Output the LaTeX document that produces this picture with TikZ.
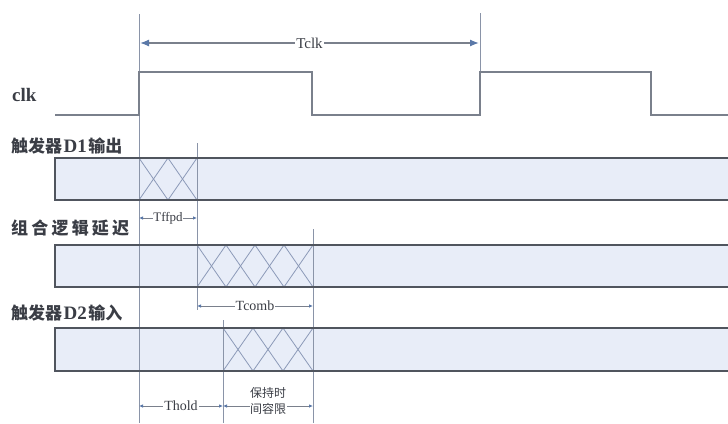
\documentclass[tikz,border=0pt]{standalone}
\usepackage{fontspec}
\setmainfont{Liberation Serif}
\newfontfamily\cjk{Noto Sans CJK SC}
\usetikzlibrary{arrows.meta}
\definecolor{wave}{HTML}{7A808C}
\definecolor{barfill}{HTML}{E8EDF8}
\definecolor{barline}{HTML}{50555E}
\definecolor{guide}{HTML}{8A94A8}
\definecolor{arr}{HTML}{5A78A8}
\definecolor{hatchc}{HTML}{8C9AB8}
\definecolor{txt}{HTML}{3A3D45}
\tikzset{
  wavel/.style={draw=wave, line width=1.3pt},
  guidel/.style={draw=guide, line width=1pt},
  barbox/.style={fill=barfill},
  baredge/.style={draw=barline, line width=1.3pt},
  hatchl/.style={draw=hatchc, line width=0.8pt},
  dim/.style={draw=wave, line width=0.9pt, {Latex[length=4pt,width=3.5pt,color=arr]}-{Latex[length=4pt,width=3.5pt,color=arr]}},
  bigdim/.style={draw=wave, line width=1.3pt, {Latex[length=9pt,width=7pt,color=arr]}-{Latex[length=9pt,width=7pt,color=arr]}},
  lbl/.style={fill=white, inner sep=1pt, text=txt, font=\fontsize{13}{13}\selectfont},
  siglbl/.style={anchor=west, inner sep=0pt, text=txt, font=\fontsize{17}{17}\selectfont\bfseries},
}
\newcommand{\dlabel}[1]{\hspace{1.5pt}{\rmfamily\fontsize{19}{19}\selectfont\bfseries #1}\hspace{1.5pt}}
\begin{document}
\begin{tikzpicture}[x=1pt,y=-1pt]
\useasboundingbox (0,0) rectangle (728,423);
% bars
\foreach \t/\b in {158/200, 245/287, 328/371} {
  \fill[barbox] (55,\t) rectangle (728,\b);
}
% hatch regions
\foreach \a/\w/\n/\t/\b in {139/29/2/158/200, 197/29/4/245/287, 223/30/3/328/371} {
  \foreach \i in {1,...,\n} {
    \draw[hatchl] ({\a+(\i-1)*\w},\t) -- ({\a+\i*\w},\b);
    \draw[hatchl] ({\a+(\i-1)*\w},\b) -- ({\a+\i*\w},\t);
  }
}
% guide lines
\coordinate (g1t) at (139,14);  \coordinate (g1b) at (139,423);
\coordinate (g2t) at (480,13);  \coordinate (g2b) at (480,73);
\coordinate (g3t) at (197,143); \coordinate (g3b) at (197,310);
\coordinate (g4t) at (313,229); \coordinate (g4b) at (313,423);
\coordinate (g5t) at (223,320); \coordinate (g5b) at (223,423);
\draw[guidel] (g1t) -- (g1b);
\draw[guidel] (g2t) -- (g2b);
\draw[guidel] (g3t) -- (g3b);
\draw[guidel] (g4t) -- (g4b);
\draw[guidel] (g5t) -- (g5b);
% bar edges
\foreach \t/\b in {158/200, 245/287, 328/371} {
  \draw[baredge] (728,\t) -- (55,\t) -- (55,\b) -- (728,\b);
}
% clock
\coordinate (c0) at (55,115);
\coordinate (c1) at (728,115);
\draw[wavel] (c0) -- (139,115) -- (139,72) -- (312,72) -- (312,115) -- (480,115) -- (480,72) -- (651,72) -- (651,115) -- (c1);
% labels
\node[siglbl, font=\fontsize{19}{19}\selectfont\bfseries] (clk) at (12,95) {clk};
\node[siglbl] (d1) at (11,146) {\cjk 触发器\dlabel{D1}输出};
\node[siglbl] (cl) at (11,228) {\cjk 组\hspace{3.2pt}合\hspace{3.2pt}逻\hspace{3.2pt}辑\hspace{3.2pt}延\hspace{3.2pt}迟};
\node[siglbl] (d2) at (11,313) {\cjk 触发器\dlabel{D2}输入};
% dimensions
\coordinate (k1) at (140,43); \coordinate (k2) at (479,43);
\draw[bigdim] (k1) -- node[lbl, font=\fontsize{15}{15}\selectfont] (tclk) {Tclk} (k2);
\coordinate (f1) at (139,218); \coordinate (f2) at (197,218);
\draw[dim] (f1) -- node[lbl, font=\fontsize{13}{13}\selectfont, inner sep=0.3pt] (tffpd) {Tffpd} (f2);
\coordinate (m1) at (197,306); \coordinate (m2) at (313,306);
\draw[dim] (m1) -- node[lbl, font=\fontsize{14}{14}\selectfont] (tcomb) {Tcomb} (m2);
\coordinate (h1) at (139,406); \coordinate (h2) at (223,406); \coordinate (h3) at (313,406);
\draw[dim] (h1) -- node[lbl, font=\fontsize{14}{14}\selectfont] (thold) {Thold} (h2);
\draw[dim] (h2) -- node[lbl, align=center, font=\cjk\fontsize{12}{16}\selectfont, yshift=5pt, inner sep=0.5pt] (margin) {保持时\\间容限} (h3);
\end{tikzpicture}
\end{document}
